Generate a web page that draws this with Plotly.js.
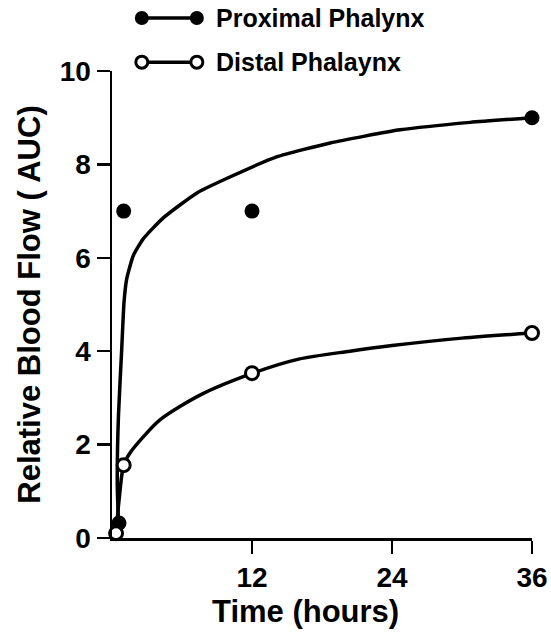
<!DOCTYPE html>
<html>
<head>
<meta charset="utf-8">
<script src="https://cdn.plot.ly/plotly-3.0.1.min.js"></script>
<style>html,body{margin:0;padding:0;background:#fff;}#chart{width:551px;height:639px;}</style>
</head>
<body>
<div id="chart"></div>
<script>
// Measured points (time in hours, relative blood flow AUC)
var proximalX = [0.6, 1, 12, 36];
var proximalY = [0.32, 7.0, 7.0, 9.0];
var distalX = [0.35, 1, 12, 36];
var distalY = [0.1, 1.56, 3.53, 4.39];

// Fitted curves
var proximalCurveX = [0.55, 0.45, 0.55, 0.83, 1.03, 1.26, 1.83, 2.66, 4.37, 7.28, 10.1, 14.1, 18.7, 24.7, 30.7, 36];
var proximalCurveY = [0.32, 1.2, 2.6, 4.03, 5.05, 5.55, 6.05, 6.4, 6.85, 7.39, 7.73, 8.16, 8.46, 8.74, 8.9, 9.0];
var distalCurveX = [0.35, 0.6, 1.0, 1.54, 2.66, 4.11, 7.54, 12.08, 16, 20.4, 24, 30, 36];
var distalCurveY = [0.1, 0.8, 1.56, 1.82, 2.16, 2.53, 3.06, 3.53, 3.83, 4.0, 4.12, 4.28, 4.39];

var xTicks = [12, 24, 36];
var xTickText = ['12', '24', '36'];
var yTicks = [0, 2, 4, 6, 8, 10];
var yTickText = ['0', '2', '4', '6', '8', '10'];

var seriesNames = ['Proximal Phalynx', 'Distal Phalaynx'];
var xTitle = 'Time (hours)';
var yTitle = 'Relative Blood Flow ( AUC)';

var FONT = 'Liberation Sans, Arial, sans-serif';

var traces = [
  {x: proximalCurveX, y: proximalCurveY, mode: 'lines', line: {color: '#000', width: 3.5, shape: 'spline', smoothing: 0.5}, showlegend: false, hoverinfo: 'skip', cliponaxis: false},
  {x: distalCurveX, y: distalCurveY, mode: 'lines', line: {color: '#000', width: 3.5, shape: 'spline', smoothing: 0.8}, showlegend: false, hoverinfo: 'skip', cliponaxis: false},
  {x: proximalX, y: proximalY, mode: 'markers', name: seriesNames[0], marker: {symbol: 'circle', size: 15, color: '#000', line: {color: '#000', width: 0}}, showlegend: false, cliponaxis: false},
  {x: distalX, y: distalY, mode: 'markers', name: seriesNames[1], marker: {symbol: 'circle', size: 13, color: '#fff', line: {color: '#000', width: 3}}, showlegend: false, cliponaxis: false}
];

// custom legend (marker - line - marker), placed in paper coordinates
var legendRows = [
  {y: 1.1135, filled: true, label: seriesNames[0]},
  {y: 1.019, filled: false, label: seriesNames[1]}
];
var shapes = [];
var annotations = [];
legendRows.forEach(function (r) {
  shapes.push({type: 'line', xref: 'paper', yref: 'paper', x0: 0.071, x1: 0.202, y0: r.y, y1: r.y, line: {color: '#000', width: 3.5}});
  [0.071, 0.202].forEach(function (xa) {
    var s = r.filled ? 7 : 6;
    shapes.push({type: 'circle', xref: 'paper', yref: 'paper', xsizemode: 'pixel', ysizemode: 'pixel',
      xanchor: xa, yanchor: r.y, x0: -s, x1: s, y0: -s, y1: s,
      fillcolor: r.filled ? '#000' : '#fff', line: {color: '#000', width: r.filled ? 0 : 3}});
  });
  annotations.push({xref: 'paper', yref: 'paper', x: 0.243, y: r.y, xanchor: 'left', yanchor: 'middle',
    text: r.label, showarrow: false, font: {family: FONT, size: 25, color: '#000', weight: 'bold'}});
});
// x-axis title, slightly left of the plot centre as in the reference
annotations.push({xref: 'paper', yref: 'paper', x: 0.46, y: -0.158, xanchor: 'center', yanchor: 'middle',
  text: xTitle, showarrow: false, font: {family: FONT, size: 31, color: '#000', weight: 'bold'}});

var layout = {
  width: 551, height: 639,
  margin: {l: 112, r: 19, t: 71, b: 101},
  paper_bgcolor: '#fff', plot_bgcolor: '#fff',
  showlegend: false,
  font: {family: FONT, color: '#000'},
  xaxis: {
    range: [0, 36], tickvals: xTicks, ticktext: xTickText,
    showline: true, linecolor: '#000', linewidth: 2.5,
    ticks: 'outside', ticklen: 13, tickwidth: 2.5, tickcolor: '#000',
    showgrid: false, zeroline: false,
    tickfont: {family: FONT, size: 28, weight: 'bold'}
  },
  yaxis: {
    range: [0, 10], tickvals: yTicks, ticktext: yTickText,
    showline: true, linecolor: '#000', linewidth: 2.5,
    ticks: 'outside', ticklen: 13, tickwidth: 2.5, tickcolor: '#000',
    showgrid: false, zeroline: false,
    tickfont: {family: FONT, size: 28, weight: 'bold'},
    title: {text: yTitle, font: {family: FONT, size: 31, weight: 'bold'}, standoff: 10}
  },
  shapes: shapes,
  annotations: annotations
};

Plotly.newPlot('chart', traces, layout, {displayModeBar: false, staticPlot: true});
</script>
</body>
</html>
